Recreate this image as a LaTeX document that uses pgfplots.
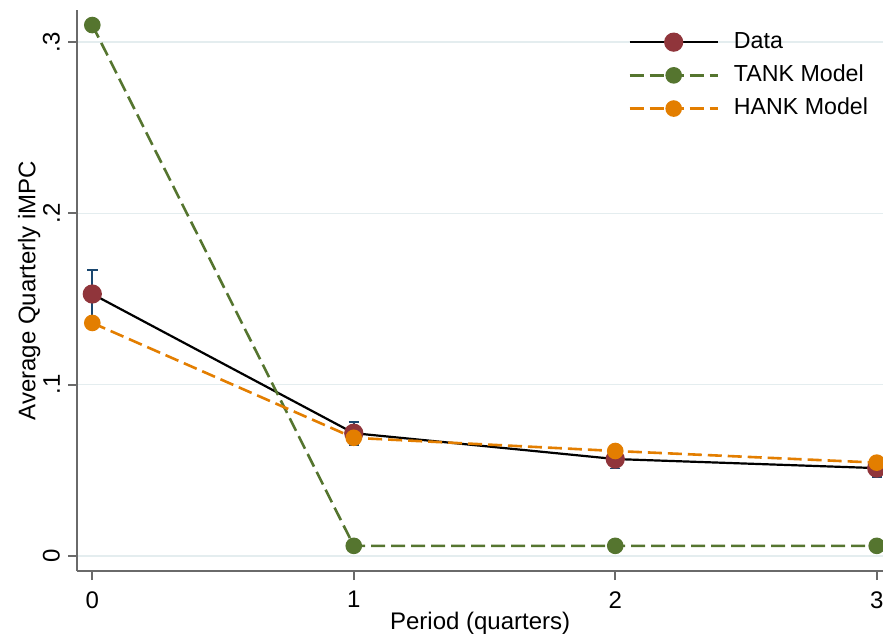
\documentclass[border=0pt]{standalone}
\usepackage{pgfplots}
\pgfplotsset{compat=1.18}
\usepackage{fontspec}
\setmainfont{Liberation Sans}
\definecolor{dmaroon}{HTML}{90353B}
\definecolor{tgreen}{HTML}{55752F}
\definecolor{horange}{HTML}{E37E00}
\definecolor{enavy}{HTML}{1A476F}
\definecolor{gridc}{HTML}{E4EDEF}
\definecolor{axc}{HTML}{6A6A6A}
\begin{document}
\begin{tikzpicture}
\begin{axis}[
  scale only axis, width=402.85bp, height=280.5bp,
  xmin=-0.0574, xmax=3.024,
  ymin=-0.0089, ymax=0.3188,
  axis lines*=left,
  axis line style={axc, line width=1bp},
  every tick/.style={axc, line width=1bp},
  tick align=outside,
  xtick={0,1,2,3}, xticklabels={0,1,2,3},
  ytick={0,0.1,0.2,0.3}, yticklabels={0,.1,.2,.3},
  major tick length=4.5bp,
  ymajorgrids, grid style={gridc, line width=0.8bp},
  /pgf/number format/assume math mode=true,
  tick label style={font=\fontsize{12bp}{14bp}\selectfont, text=black},
  yticklabel style={rotate=90, anchor=south, inner sep=0pt},
  yticklabel shift=4bp,
  xticklabel style={anchor=north, inner sep=0pt, yshift=-5.5bp},
  xlabel={Period (quarters)}, ylabel={Average Quarterly iMPC},
  label style={font=\fontsize{12bp}{14bp}\selectfont},
  xlabel style={at={(axis description cs:0.5,0)}, anchor=base, yshift=-29bp, inner sep=0pt},
  ylabel style={at={(axis description cs:0,0.5)}, anchor=base, rotate=0, yshift=21bp, inner sep=0pt},
  clip=false,
  legend cell align=left,
  legend style={at={(axis description cs:0.6835,0.963)}, anchor=north west, draw=none, fill=none,
    inner sep=0pt, row sep=5.6bp, column sep=7.5bp,
    font=\fontsize{11.6bp}{13bp}\selectfont,
    nodes={inner sep=0pt, text height=8.5bp, text depth=2.5bp}},
  legend image code/.code={
    \draw[mark repeat=2,mark phase=2,#1] plot coordinates {(0bp,0bp) (22bp,0bp) (44bp,0bp)};
  },
]
\addplot[black, line width=1.1bp, mark=*, mark size=4.25bp, mark options={solid, fill=dmaroon, draw=dmaroon},
  error bars/.cd, y dir=both, y explicit,
  error bar style={enavy, line width=0.9bp},
  error mark options={enavy, line width=0.9bp, mark size=2.6bp, rotate=90}]
  coordinates {
  (0,0.1529) +- (0,0.0140)
  (1,0.0716) +- (0,0.0067)
  (2,0.0565) +- (0,0.0055)
  (3,0.0512) +- (0,0.0052)
  };
\addlegendentry{Data}
\addplot[tgreen, line width=1.3bp, dash pattern=on 7bp off 3bp, mark=*, mark size=3.5bp, mark options={solid, fill=tgreen}]
  coordinates {(0,0.3100) (1,0.0058) (2,0.0058) (3,0.0058)};
\addlegendentry{TANK Model}
\addplot[horange, line width=1.3bp, dash pattern=on 7bp off 3bp, mark=*, mark size=3.5bp, mark options={solid, fill=horange}]
  coordinates {(0,0.1360) (1,0.0689) (2,0.0612) (3,0.0544)};
\addlegendentry{HANK Model}
\end{axis}
\pgfresetboundingbox
\path[use as bounding box] ([xshift=-38.65bp, yshift=-34bp]current axis.south west) rectangle ([yshift=5bp]current axis.north east);
\end{tikzpicture}
\end{document}
